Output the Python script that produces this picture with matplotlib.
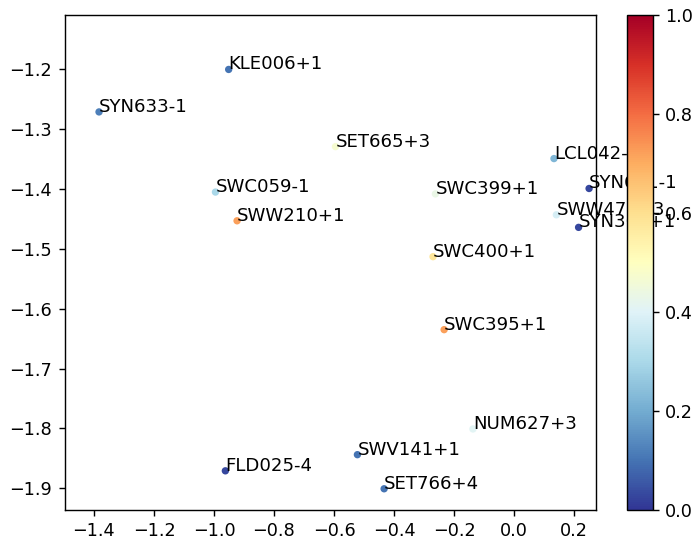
import matplotlib
matplotlib.use('Agg')
import matplotlib.pyplot as plt
import numpy as np

# labels, 2d coords and colour value of each sample
labels = ['KLE006+1', 'SYN633-1', 'SET665+3', 'SWC059-1', 'SWW210+1',
          'SWC399+1', 'SWC400+1', 'SWC395+1', 'NUM627+3', 'SWV141+1',
          'FLD025-4', 'SET766+4', 'LCL042-1', 'SYN621-1', 'SWW476+3',
          'SYN365+1']
xs = np.array([-0.951, -1.383, -0.595, -0.995, -0.923,
               -0.262, -0.270, -0.233, -0.137, -0.522,
               -0.962, -0.433, 0.133, 0.250, 0.141,
               0.215])
ys = np.array([-1.200, -1.271, -1.329, -1.405, -1.453,
               -1.408, -1.513, -1.635, -1.801, -1.844,
               -1.871, -1.901, -1.349, -1.399, -1.443,
               -1.464])
vals = np.array([0.10, 0.12, 0.47, 0.30, 0.72,
                 0.43, 0.58, 0.72, 0.41, 0.10,
                 0.03, 0.10, 0.22, 0.03, 0.38,
                 0.03])

dpi = 127
fig = plt.figure(figsize=(699/dpi, 540/dpi), dpi=dpi)
ax = fig.add_axes([0.0923, 0.0561, 0.7599, 0.9161])
cax = fig.add_axes([0.8970, 0.0561, 0.0365, 0.9161])

sc = ax.scatter(xs, ys, c=vals, cmap='RdYlBu_r', vmin=0, vmax=1, s=10)
for lab, x, y in zip(labels, xs, ys):
    ax.annotate(lab, (x, y), fontsize=10.3)

ax.set_xlim(-1.498, 0.272)
ax.set_ylim(-1.936, -1.109)
ax.set_xticks(np.arange(-1.4, 0.21, 0.2))
ax.set_yticks(np.arange(-1.9, -1.15, 0.1))

fig.colorbar(sc, cax=cax)

fig.savefig('out.png', dpi=dpi)
